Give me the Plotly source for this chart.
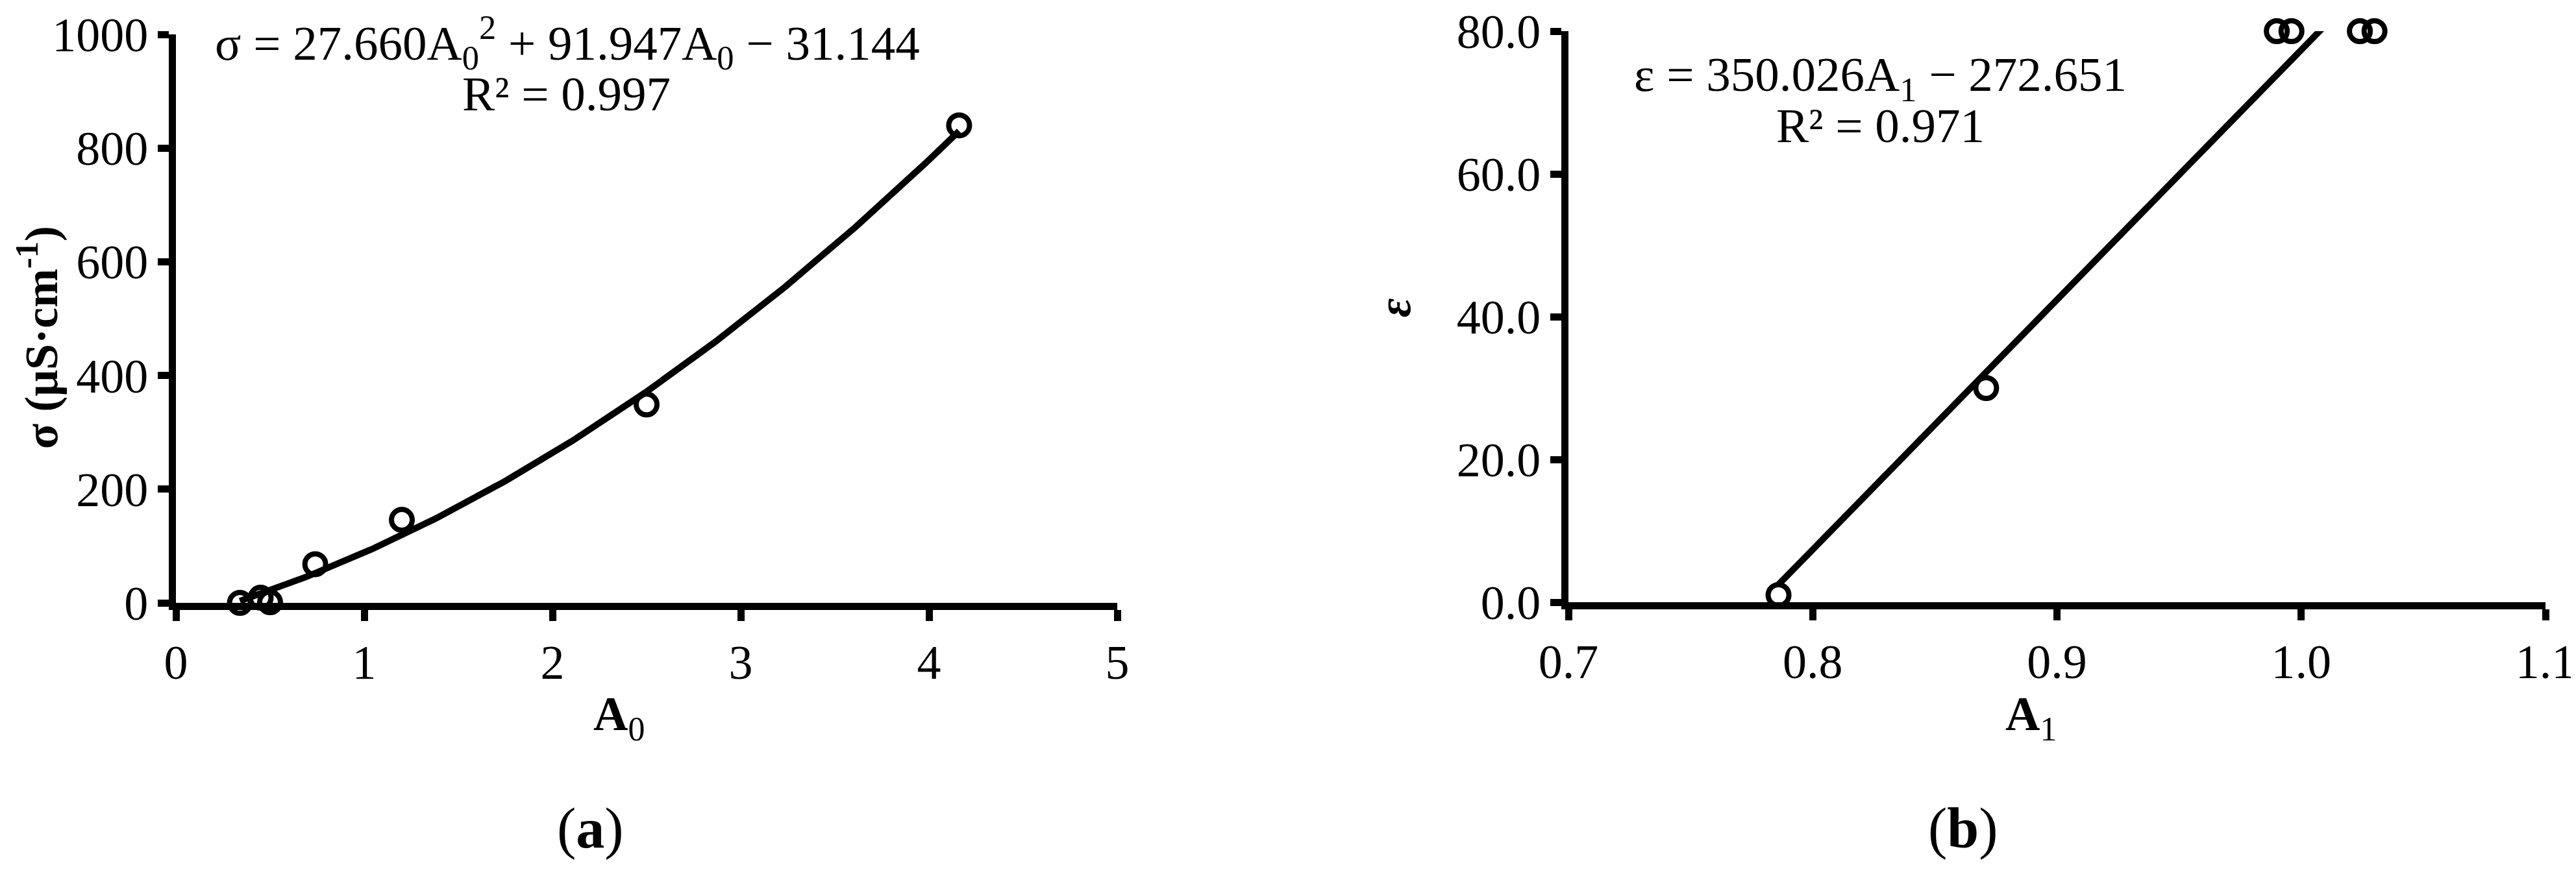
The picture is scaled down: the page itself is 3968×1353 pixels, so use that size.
import numpy as np
import plotly.graph_objects as go

# ---------------- data ----------------
# Panel (a): sigma vs A0
a0_vals = [0.34, 0.45, 0.50, 0.74, 1.20, 2.50, 4.16]
sigma_vals = [0, 9, 1, 68, 146, 349, 840]
quad_coef = [27.660, 91.947, -31.144]   # sigma = c2*A0^2 + c1*A0 + c0
r2_a = 0.997

# Panel (b): epsilon vs A1
a1_vals = [0.786, 0.871, 0.990, 0.996, 1.024, 1.030]
eps_vals = [1.0, 30.0, 80.0, 80.0, 80.0, 80.0]
lin_coef = [350.026, -272.651]          # eps = m*A1 + b
r2_b = 0.971

x_ticks_a = [0, 1, 2, 3, 4, 5]
y_ticks_a = [0, 200, 400, 600, 800, 1000]
x_ticks_b = [0.7, 0.8, 0.9, 1.0, 1.1]
y_ticks_b = [0.0, 20.0, 40.0, 60.0, 80.0]

# ---------------- figure ----------------
W, H = 3968, 1353
FONT = "Liberation Serif, Times New Roman, serif"
TICK_SIZE = 74
LW = 11

def px(x):
    return x / W

def py(y):
    return 1 - y / H

fig = go.Figure()

# trendline (a)
xa = np.linspace(min(a0_vals), max(a0_vals), 200)
ya = quad_coef[0] * xa**2 + quad_coef[1] * xa + quad_coef[2]
fig.add_trace(go.Scatter(x=xa, y=ya, mode="lines", line=dict(color="black", width=10),
                         xaxis="x", yaxis="y", showlegend=False, hoverinfo="skip"))
fig.add_trace(go.Scatter(x=a0_vals, y=sigma_vals, mode="markers",
                         marker=dict(symbol="circle-open", size=32, color="black",
                                     line=dict(width=8, color="black")),
                         cliponaxis=False, xaxis="x", yaxis="y", showlegend=False))

# trendline (b)
xb = np.linspace(min(a1_vals), max(a1_vals), 50)
yb = lin_coef[0] * xb + lin_coef[1]
fig.add_trace(go.Scatter(x=xb, y=yb, mode="lines", line=dict(color="black", width=10),
                         xaxis="x2", yaxis="y2", showlegend=False, hoverinfo="skip"))
fig.add_trace(go.Scatter(x=a1_vals, y=eps_vals, mode="markers",
                         marker=dict(symbol="circle-open", size=32, color="black",
                                     line=dict(width=8, color="black")),
                         cliponaxis=False, xaxis="x2", yaxis="y2", showlegend=False))

common_axis = dict(showline=True, linecolor="black", linewidth=LW, ticks="outside",
                   ticklen=17, tickwidth=LW, tickcolor="black", showgrid=False,
                   zeroline=False, mirror=False, automargin=False,
                   ticklabeloverflow="allow",
                   tickfont=dict(family=FONT, size=TICK_SIZE, color="black"))

ysuffix = "\u2002\u2009"

fig.update_layout(
    width=W, height=H,
    margin=dict(l=0, r=0, t=0, b=0),
    paper_bgcolor="white", plot_bgcolor="white",
    xaxis=dict(domain=[px(263), px(1713)], range=[0, 5], tickvals=x_ticks_a,
               anchor="y", **common_axis),
    yaxis=dict(domain=[py(921), py(45)], range=[0, 1000], tickvals=y_ticks_a,
               ticksuffix=ysuffix, anchor="x", **common_axis),
    xaxis2=dict(domain=[px(2408), px(3913)], range=[0.7, 1.1], tickvals=x_ticks_b,
                tickformat=".1f", anchor="y2", **common_axis),
    yaxis2=dict(domain=[py(920), py(40)], range=[0, 80], tickvals=y_ticks_b,
                tickformat=".1f", ticksuffix=ysuffix, anchor="x2", **common_axis),
)

def ann(text, x, y, size, angle=0):
    fig.add_annotation(text=text, x=px(x), y=py(y), xref="paper", yref="paper",
                       xanchor="center", yanchor="middle", showarrow=False,
                       textangle=angle, font=dict(family=FONT, size=size, color="black"))

# equations
eq_a = (f"σ = {quad_coef[0]:.3f}A<sub>0</sub><sup>2</sup> + {quad_coef[1]:.3f}A<sub>0</sub>"
        f" − {abs(quad_coef[2]):.3f}")
ann(eq_a, 866, 58, 75)
ann(f"R² = {r2_a:.3f}", 864, 136, 75)
eq_b = f"ε = {lin_coef[0]:.3f}A<sub>1</sub> − {abs(lin_coef[1]):.3f}"
ann(eq_b, 2888, 112, 75)
ann(f"R² = {r2_b:.3f}", 2888, 186, 75)

# axis titles
ann("<b>σ (μS·cm<sup>-1</sup>)</b>", 50, 512, 72, angle=-90)
ann("<b><i>ε</i></b>", 2140, 466, 72, angle=-90)
ann("<b>A</b><sub>0</sub>", 945, 1097, 74)
ann("<b>A</b><sub>1</sub>", 3120, 1097, 74)

# panel labels
ann("(<b>a</b>)", 901, 1268, 88)
ann("(<b>b</b>)", 3016, 1268, 88)

fig.write_html("out.html")
